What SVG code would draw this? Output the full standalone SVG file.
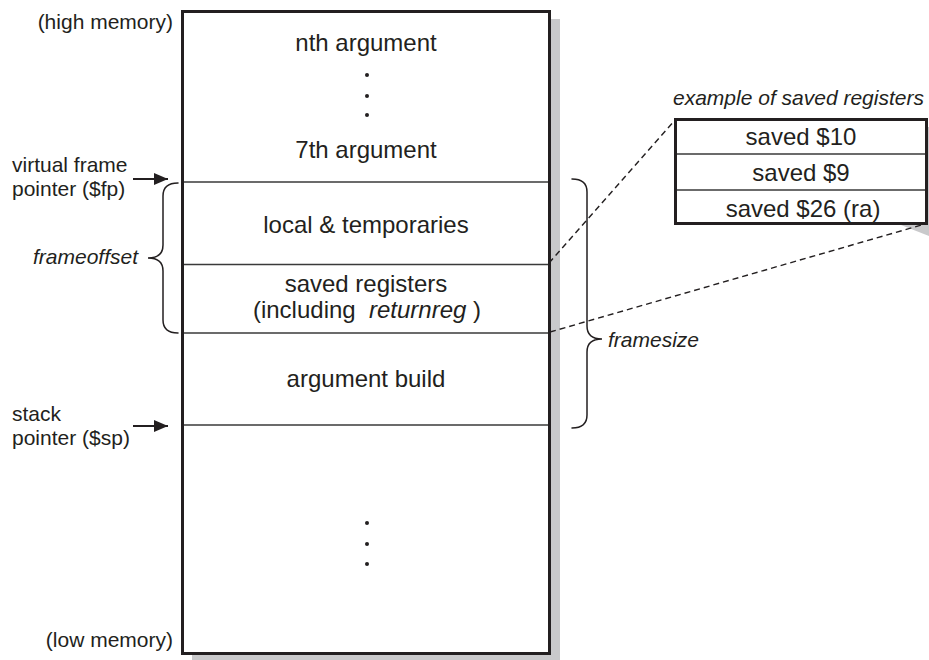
<svg xmlns="http://www.w3.org/2000/svg" width="929" height="660" viewBox="0 0 929 660">
  <style>
    .lbl { font-family: "Liberation Sans", Arial, sans-serif; fill: #231f20; }
    .side { font-size: 21px; }
    .main { font-size: 24px; text-anchor: middle; }
    .it { font-style: italic; }
    .frame { fill: #ffffff; stroke: #231f20; stroke-width: 3; }
    .shadow { fill: #c9c9cb; stroke: none; }
    .row { stroke: #3a3a3a; stroke-width: 1.6; fill: none; }
    .brace { fill: none; stroke: #231f20; stroke-width: 1.5; stroke-linecap: round; }
    .dash { fill: none; stroke: #231f20; stroke-width: 1.4; stroke-dasharray: 6 4; }
    .ptr { stroke: #231f20; stroke-width: 1.8; }
    .dot { fill: #231f20; }
  </style>
  <defs>
    <marker id="head" viewBox="0 0 14 12" refX="14" refY="6" markerWidth="14" markerHeight="12" markerUnits="userSpaceOnUse" orient="auto">
      <path d="M0,0 L14,6 L0,12 Z" fill="#231f20"/>
    </marker>
  </defs>

  <rect width="929" height="660" fill="#ffffff"/>

  <!-- stack column -->
  <g id="stack">
    <rect class="shadow" x="192" y="19" width="368" height="650"/>
    <rect class="frame" x="182.5" y="11.5" width="367" height="642"/>
    <line class="row" x1="184" y1="182" x2="548" y2="182"/>
    <line class="row" x1="184" y1="264.5" x2="548" y2="264.5"/>
    <line class="row" x1="184" y1="333" x2="548" y2="333"/>
    <line class="row" x1="184" y1="425" x2="548" y2="425"/>
  </g>

  <g id="args">
    <text class="lbl main" x="366" y="51">nth argument</text>
    <circle class="dot" cx="367" cy="75" r="2"/>
    <circle class="dot" cx="367" cy="96" r="2"/>
    <circle class="dot" cx="367" cy="115" r="2"/>
    <text class="lbl main" x="366" y="158">7th argument</text>
  </g>

  <g id="locals">
    <text class="lbl main" x="366" y="233">local &amp; temporaries</text>
  </g>

  <g id="saved">
    <text class="lbl main" x="366" y="292">saved registers</text>
    <text class="lbl main" x="367" y="318" xml:space="preserve">(including  <tspan class="it">returnreg</tspan> )</text>
  </g>

  <g id="argbuild">
    <text class="lbl main" x="366" y="387">argument build</text>
  </g>

  <g id="below">
    <circle class="dot" cx="367" cy="523" r="2"/>
    <circle class="dot" cx="367" cy="544" r="2"/>
    <circle class="dot" cx="367" cy="564" r="2"/>
  </g>

  <!-- left-hand labels -->
  <g id="high">
    <text class="lbl side" x="173" y="29" text-anchor="end">(high memory)</text>
  </g>
  <g id="low">
    <text class="lbl side" x="173" y="647" text-anchor="end">(low memory)</text>
  </g>
  <g id="fp">
    <text class="lbl side" x="12" y="172">virtual frame</text>
    <text class="lbl side" x="12" y="196">pointer ($fp)</text>
  </g>
  <g id="sp">
    <text class="lbl side" x="12" y="421">stack</text>
    <text class="lbl side" x="12" y="445">pointer ($sp)</text>
  </g>
  <g id="frameoffset">
    <text class="lbl side it" x="138" y="264" text-anchor="end">frameoffset</text>
  </g>
  <g id="framesize">
    <text class="lbl side it" x="608" y="347">framesize</text>
  </g>

  <!-- saved register example -->
  <g id="regs">
    <rect class="shadow" x="927" y="127" width="10" height="98"/>
    <polygon class="shadow" points="901,225 929,225 929,236"/>
    <rect class="frame" x="675.5" y="119.5" width="251" height="104"/>
    <line class="row" x1="677" y1="154" x2="925" y2="154"/>
    <line class="row" x1="677" y1="190" x2="925" y2="190"/>
    <text class="lbl main" x="801" y="145">saved $10</text>
    <text class="lbl main" x="801" y="181">saved $9</text>
    <text class="lbl main" x="803" y="217">saved $26 (ra)</text>
    <text class="lbl side it" x="673" y="105">example of saved registers</text>
  </g>

  <!-- connectors -->
  <g id="connectors">
    <line class="ptr" x1="133" y1="179" x2="168" y2="179" marker-end="url(#head)"/>
    <line class="ptr" x1="133" y1="426" x2="168" y2="426" marker-end="url(#head)"/>
    <path class="brace" d="M178,183 Q163,183 163,196 L163,245 Q163,258 148,258 Q163,258 163,271 L163,320 Q163,333 178,333"/>
    <path class="brace" d="M572,179 Q587,179 587,192 L587,326 Q587,339 602,339 Q587,339 587,352 L587,415 Q587,428 572,428"/>
    <line class="dash" x1="549" y1="263" x2="675" y2="120"/>
    <line class="dash" x1="550" y1="332" x2="925" y2="224"/>
  </g>
</svg>
